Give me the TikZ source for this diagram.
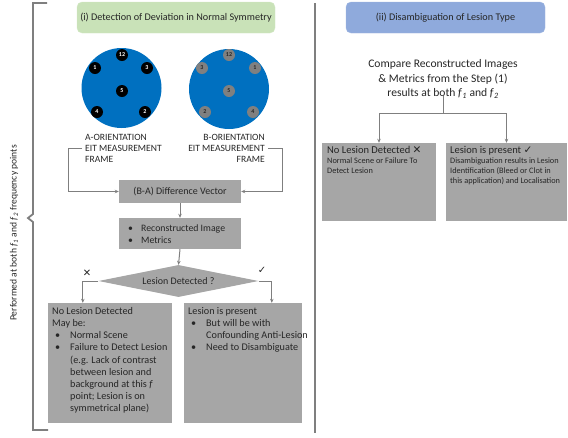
\documentclass[tikz,border=0pt]{standalone}
\usepackage{fontspec}
\setmainfont{Carlito}
\newfontfamily\symf{DejaVu Sans}
\usetikzlibrary{arrows.meta,shapes.geometric}
\definecolor{cblue}{HTML}{0070C0}
\definecolor{boxgray}{HTML}{A6A6A6}
\definecolor{linegray}{HTML}{7F7F7F}
\definecolor{tgreen}{HTML}{C9E2B8}
\definecolor{tblue}{HTML}{8FAADC}
\definecolor{txt}{HTML}{262626}
\definecolor{dotgray}{HTML}{808080}
\newcommand{\fsz}[2]{\fontsize{#1}{#2}\selectfont}
\newcommand{\bulA}{\hspace*{3pt}\makebox[15pt][l]{•}}
\newcommand{\indA}{\hspace*{18pt}}
\begin{document}
\begin{tikzpicture}[x=1pt,y=-1pt,
  every node/.style={text=txt},
  conn/.style={draw=linegray, line width=1pt},
  arr/.style={conn, -{Stealth[length=4pt,width=3.5pt]}},
  graybox/.style={fill=boxgray, draw=none, inner sep=0pt},
  titlebox/.style={rounded corners=5pt, inner sep=0pt, minimum height=31pt, font=\fsz{10.2}{12}},
  dotA/.style={circle, fill=black, inner sep=0pt, minimum size=12pt, text=white, font=\fsz{6}{6}\bfseries},
  dotB/.style={circle, fill=dotgray, inner sep=0pt, minimum size=12pt, text=txt, font=\fsz{6}{6}\bfseries},
  framelab/.style={inner sep=0pt, font=\fsz{9.6}{11}},
  bodytext/.style={inner sep=0pt, align=left, font=\fsz{10.2}{12.2}},
  symmark/.style={inner sep=0pt, font=\symf\fsz{10}{12}}
]
\useasboundingbox (0,0) rectangle (568,437);

% bracket and divider
\draw[linegray, line width=1.8pt] (47,3) -- (33,3) -- (33,214) -- (28,218) -- (33,222) -- (33,430) -- (48,430);
\draw[linegray, line width=1.2pt] (315,3) -- (315,433);
\node[rotate=90, anchor=east, inner sep=0pt, font=\fsz{9.6}{11}] (side) at (14,145)
  {Performed at both \textit{f}\textsubscript{\textit{1}} and \textit{f}\textsubscript{\textit{2}} frequency points};

% titles
\node[titlebox, fill=tgreen, draw=tgreen!80!white, minimum width=198pt] (tg) at (176,17.5)
  {(i) Detection of Deviation in Normal Symmetry};
\node[titlebox, fill=tblue, draw=tblue!85!white, minimum width=199pt] (tb) at (445.5,17.5)
  {(ii) Disambiguation of Lesion Type};

% circles
\node[circle, fill=cblue, minimum size=80pt, inner sep=0pt] (ca) at (121.5,88) {};
\node[circle, fill=cblue, minimum size=80pt, inner sep=0pt] (cb) at (229,89) {};
\node[dotA] (a12) at (122,55) {12};
\node[dotA] (a1) at (95,68) {1};
\node[dotA] (a3) at (147,68) {3};
\node[dotA] (a5) at (122,91) {5};
\node[dotA] (a4) at (97,112) {4};
\node[dotA] (a2) at (145,112) {2};
\node[dotB] (b12) at (229,55) {12};
\node[dotB] (b3) at (202,68) {3};
\node[dotB] (b1) at (255,68) {1};
\node[dotB] (b5) at (229,91) {5};
\node[dotB] (b2) at (205,112) {2};
\node[dotB] (b4) at (253,112) {4};

\node[framelab, align=left, anchor=west] (alab) at (85,148) {A-ORIENTATION\\EIT MEASUREMENT\\FRAME};
\node[framelab, align=right, anchor=east] (blab) at (265,148) {B-ORIENTATION\\EIT MEASUREMENT\\FRAME};

% left flow
\node[graybox, minimum width=122pt, minimum height=23pt, font=\fsz{10}{11}] (diff) at (180,191.5) {(B-A) Difference Vector};
\node[graybox, minimum width=122pt, minimum height=31pt] (rec) at (180,233.5) {};
\node[bodytext, anchor=west, font=\fsz{9.8}{11.5}] (rect) at (128,234) {\makebox[13pt][l]{•}Reconstructed Image\\\makebox[13pt][l]{•}Metrics};
\node[diamond, fill=boxgray, inner sep=0pt, minimum width=160pt, minimum height=32pt, aspect=5, font=\fsz{10}{11}] (dia) at (178.5,281) {Lesion Detected ?};

\draw[arr] ([xshift=-3pt]alab.west) -- ++(-14,0) |- (diff.west);
\draw[arr] ([xshift=3pt]blab.east) -- ++(14,0) |- (diff.east);
\draw[arr] (diff.south) -- (rec.north);
\draw[arr] (rec.south) -- (dia.north);

\node[graybox, minimum width=124pt, minimum height=120pt] (lb1) at (110,363) {};
\node[graybox, minimum width=118pt, minimum height=120pt] (lb2) at (243,363) {};
\draw[arr] (dia.west) -| ([xshift=35pt]lb1.north west);
\draw[arr] (dia.east) -| ([xshift=88pt]lb2.north west);
\node[symmark] (xm) at (87,273) {✕};
\node[symmark] (cm) at (262,270) {✓};

\node[bodytext, anchor=north west] (lb1t) at (52,307) {No Lesion Detected\\May be:\\\bulA Normal Scene\\\bulA Failure to Detect Lesion\\\indA(e.g. Lack of contrast\\\indA between lesion and\\\indA background at this \textit{f}\\\indA point; Lesion is on\\\indA symmetrical plane)};
\node[bodytext, anchor=north west] (lb2t) at (188,307) {Lesion is present\\\bulA But will be with\\\indA Confounding Anti-Lesion\\\bulA Need to Disambiguate};

% right flow
\node[align=center, inner sep=0pt, font=\fsz{11.6}{14.5}] (cmp) at (443,79)
  {Compare Reconstructed Images\\\& Metrics from the Step (1)\\results at both \textit{f}\textsubscript{\textit{1}} and \textit{f}\textsubscript{\textit{2}}};
\coordinate (split) at (443,113);
\node[graybox, minimum width=114pt, minimum height=78pt] (rb1) at (379,182) {};
\node[graybox, minimum width=121pt, minimum height=78pt] (rb2) at (506.5,182) {};
\draw[conn] ([yshift=3pt]cmp.south) -- (split);
\draw[arr] (split) -| (rb1.north);
\draw[arr] (split) -| (rb2.north);
\node[inner sep=0pt, anchor=north west, align=left, font=\fsz{8.3}{10}] (rb1t) at (327,146)
  {{\fsz{10.5}{12}No Lesion Detected {\symf ✕}}\\Normal Scene or Failure To\\Detect Lesion};
\node[inner sep=0pt, anchor=north west, align=left, font=\fsz{8.3}{10}] (rb2t) at (450,146)
  {{\fsz{10.5}{12}Lesion is present {\symf ✓}}\\Disambiguation results in Lesion\\Identification (Bleed or Clot in\\this application) and Localisation};
\end{tikzpicture}
\end{document}
